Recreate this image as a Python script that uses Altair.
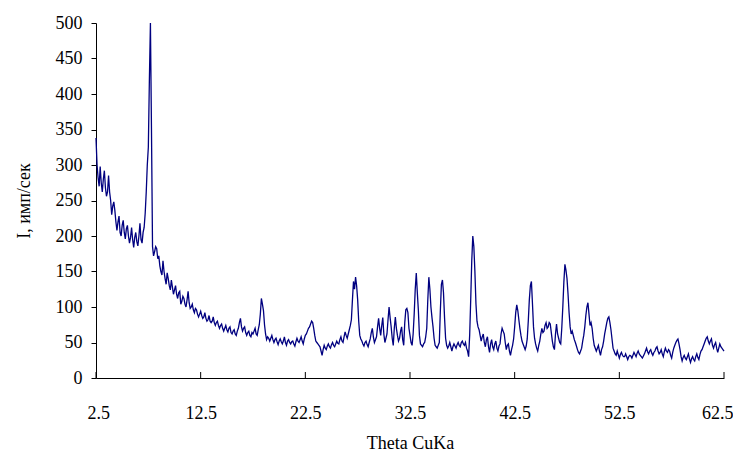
import altair as alt
import pandas as pd

# Intensity (imp/sec) at 2.5, 2.7, 2.9 ... 62.5 deg
intensity = [
    338, 282, 298, 262, 292, 256, 285, 250, 242, 236,
    208, 228, 200, 222, 196, 215, 190, 212, 184, 205,
    186, 218, 190, 212, 262, 325, 500, 185, 178, 182,
    172, 150, 165, 140, 148, 130, 138, 118, 130, 112,
    122, 108, 112, 100, 122, 98, 104, 92, 96, 86,
    94, 84, 92, 80, 88, 78, 86, 74, 80, 70,
    76, 66, 74, 65, 72, 62, 68, 60, 70, 84,
    66, 72, 60, 66, 58, 62, 70, 60, 75, 112,
    95, 62, 58, 52, 60, 50, 56, 47, 55, 48,
    58, 46, 54, 48, 52, 45, 56, 50, 58, 48,
    60, 66, 72, 80, 70, 52, 48, 44, 32, 46,
    40, 48, 42, 50, 44, 52, 48, 58, 50, 65,
    56, 68, 82, 136, 142, 110, 60, 52, 45, 52,
    44, 55, 70, 50, 58, 84, 60, 85, 50, 62,
    100, 72, 46, 86, 60, 56, 72, 46, 96, 92,
    60, 46, 90, 148, 95, 48, 44, 50, 70, 142,
    100, 72, 46, 42, 50, 132, 120, 56, 42, 50,
    38, 48, 42, 50, 44, 52, 46, 42, 30, 110,
    200, 150, 80, 68, 52, 62, 44, 58, 36, 54,
    40, 52, 38, 48, 70, 62, 40, 48, 32, 46,
    72, 103, 82, 60, 48, 40, 55, 110, 136, 72,
    48, 38, 52, 70, 66, 78, 72, 76, 52, 40,
    76, 56, 48, 100, 160, 140, 92, 62, 60, 50,
    40, 34, 42, 60, 88, 106, 74, 70, 46, 38,
    46, 32, 44, 62, 78, 86, 68, 42, 34, 38,
    28, 36, 30, 34, 26, 32, 28, 36, 30, 38,
    32, 28, 34, 42, 34, 40, 32, 38, 44, 34,
    40, 30, 42, 36, 38, 28, 42, 50, 55, 40,
    24, 32, 26, 34, 22, 30, 24, 34, 26, 38,
    44, 52, 58, 48, 55, 42, 50, 36, 48, 42,
    38,
]
# Intensity read at the in-between angles 2.6, 2.8 ... 62.4 deg
intensity_mid = [
    300, 270, 275, 280, 268, 262, 262, 230, 248, 220,
    220, 205, 215, 205, 210, 200, 198, 195, 198, 192,
    200, 195, 205, 232, 300, 420, 350, 172, 185, 168,
    158, 145, 150, 132, 140, 124, 128, 124, 118, 120,
    104, 115, 104, 110, 106, 100, 96, 98, 90, 90,
    88, 86, 84, 82, 80, 80, 78, 78, 74, 74,
    70, 70, 68, 70, 64, 66, 62, 66, 78, 72,
    70, 64, 64, 60, 64, 66, 62, 68, 90, 104,
    75, 54, 56, 56, 54, 54, 51, 52, 51, 52,
    50, 52, 50, 51, 48, 51, 52, 54, 52, 55,
    62, 70, 76, 78, 60, 50, 46, 38, 40, 42,
    45, 44, 47, 46, 48, 49, 54, 52, 58, 60,
    62, 74, 110, 125, 130, 80, 55, 48, 50, 47,
    50, 64, 58, 54, 72, 70, 74, 62, 56, 82,
    85, 56, 70, 70, 52, 66, 54, 78, 98, 70,
    50, 62, 125, 120, 60, 46, 48, 58, 110, 125,
    85, 56, 44, 46, 95, 138, 85, 46, 45, 44,
    44, 45, 47, 46, 50, 48, 50, 38, 60, 165,
    185, 105, 72, 60, 58, 50, 54, 44, 48, 44,
    48, 42, 45, 62, 66, 50, 46, 38, 40, 55,
    92, 95, 70, 52, 44, 45, 80, 130, 105, 56,
    42, 46, 62, 64, 74, 70, 78, 64, 44, 62,
    62, 50, 70, 135, 152, 118, 72, 66, 54, 45,
    36, 38, 52, 72, 100, 90, 78, 56, 42, 42,
    38, 40, 52, 70, 84, 78, 55, 38, 32, 33,
    33, 32, 30, 30, 30, 31, 32, 33, 35, 34,
    30, 31, 38, 37, 38, 35, 36, 42, 38, 36,
    34, 37, 38, 40, 32, 36, 46, 53, 48, 30,
    29, 28, 30, 27, 27, 26, 30, 29, 33, 40,
    48, 56, 52, 52, 46, 47, 42, 42, 44, 40,
]
theta_start = 2.5
theta_step = 0.2
theta = [round(theta_start + theta_step * i, 1) for i in range(len(intensity))]
theta_mid = [round(theta_start + theta_step * i + 0.1, 1) for i in range(len(intensity_mid))]

x_ticks = [2.5, 12.5, 22.5, 32.5, 42.5, 52.5, 62.5]
y_ticks = [0, 50, 100, 150, 200, 250, 300, 350, 400, 450, 500]

df = pd.DataFrame({"theta": theta + theta_mid, "I": intensity + intensity_mid})
df = df.sort_values("theta").reset_index(drop=True)
ticks_df = pd.DataFrame({"t": x_ticks})

FONT = "Liberation Serif"
W, H = 628, 355

xscale = alt.Scale(domain=[2.5, 62.5], nice=False, zero=False)

line = alt.Chart(df).mark_line(color="#000080", strokeWidth=1.3).encode(
    x=alt.X("theta:Q", scale=xscale,
            axis=alt.Axis(title="Theta CuKa", values=x_ticks, format=".1f",
                          ticks=False, labelPadding=26, titlePadding=12,
                          labelFlush=True, labelFlushOffset=9, labelOverlap=False,
                          domainColor="black", grid=False)),
    y=alt.Y("I:Q", scale=alt.Scale(domain=[0, 500], nice=False),
            axis=alt.Axis(title="I, имп/сек", values=y_ticks, tickSize=5,
                          tickColor="black", domainColor="black", labelPadding=9,
                          titlePadding=22, grid=False)),
)

xt = alt.Chart(ticks_df).mark_rule(color="black", strokeWidth=1).encode(
    x=alt.X("t:Q", scale=xscale),
    y=alt.value(H),
    y2=alt.value(H - 6),
)

chart = alt.layer(line, xt).properties(
    width=W, height=H,
    autosize=alt.AutoSizeParams(type="none"),
    padding={"left": 88, "top": 15, "right": 9, "bottom": 82},
).configure_view(stroke=None).configure_axis(
    labelFont=FONT, titleFont=FONT, labelFontSize=18, titleFontSize=18,
    titleFontWeight="normal", labelColor="black", titleColor="black",
    domainWidth=1,
)

chart.save("out.html", embed_options={"renderer": "svg", "actions": False})
